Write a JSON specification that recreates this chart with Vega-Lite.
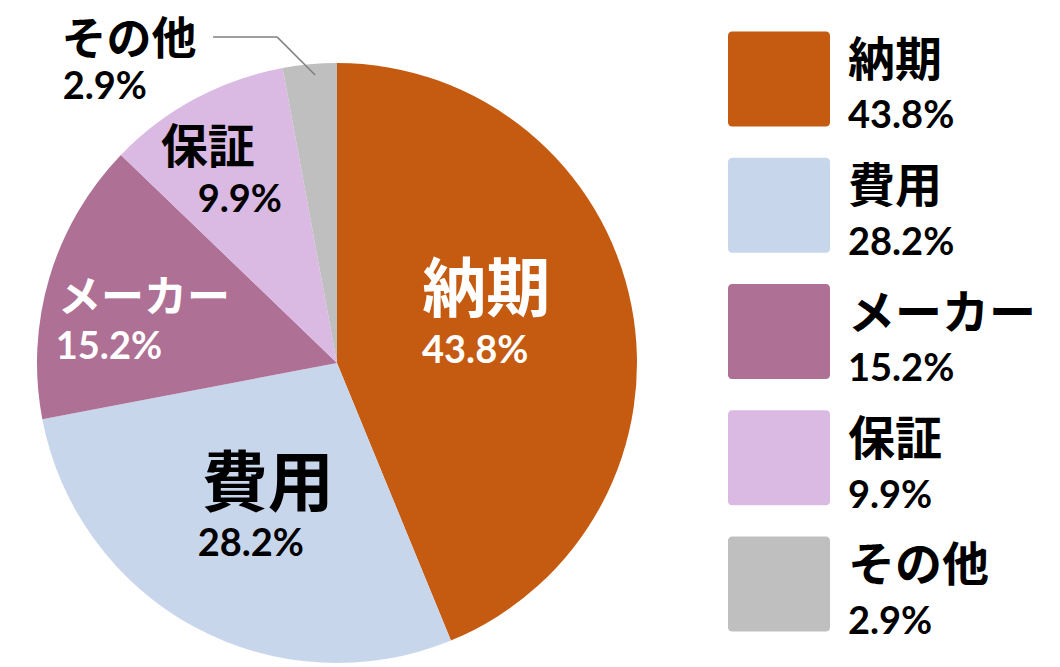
{
  "$schema": "https://vega.github.io/schema/vega-lite/v6.json",
  "autosize": {"type": "none"},
  "width": 600,
  "height": 600,
  "padding": {"left": 37, "top": 63, "right": 423, "bottom": 4},
  "background": "white",
  "config": {"view": {"stroke": null}},
  "data": {
    "values": [
      {"cat": "納期", "pct": "43.8%", "value": 43.8},
      {"cat": "費用", "pct": "28.2%", "value": 28.2},
      {"cat": "メーカー", "pct": "15.2%", "value": 15.2},
      {"cat": "保証", "pct": "9.9%", "value": 9.9},
      {"cat": "その他", "pct": "2.9%", "value": 2.9}
    ]
  },
  "layer": [
    {
      "mark": {"type": "arc", "outerRadius": 300, "strokeWidth": 0},
      "encoding": {
        "theta": {"field": "value", "type": "quantitative", "stack": true},
        "order": {"field": "value", "sort": "descending"},
        "fill": {
          "field": "cat", "type": "nominal",
          "scale": {"domain": ["納期", "費用", "メーカー", "保証", "その他"], "range": ["#C55A11", "#C8D6EC", "#AE7094", "#DABAE3", "#BFBFBF"]},
          "legend": {
            "orient": "none", "legendX": 691, "legendY": -38, "title": null, "padding": 0,
            "symbolType": "M-0.92,-0.871H0.92A0.08,0.08 0 0 1 1,-0.791V0.911A0.08,0.08 0 0 1 0.92,0.991H-0.92A0.08,0.08 0 0 1 -1,0.911V-0.791A0.08,0.08 0 0 1 -0.92,-0.871Z",
            "symbolSize": 10404, "symbolStrokeWidth": 0, "symbolOpacity": 1,
            "rowPadding": 24.25, "labelOffset": 18, "labelLimit": 400,
            "labelFont": "Noto Sans CJK JP", "labelFontWeight": "bold", "labelFontSize": 47,
            "labelColor": "#000000", "labelBaseline": "alphabetic"
          }
        }
      }
    },
    {
      "mark": {"type": "point", "radius": 10, "opacity": 0, "filled": true},
      "encoding": {
        "theta": {"field": "value", "type": "quantitative", "stack": true},
        "order": {"field": "value", "sort": "descending"},
        "detail": {"field": "cat", "type": "nominal"},
        "shape": {
          "field": "pct", "type": "nominal",
          "scale": {"domain": ["43.8%", "28.2%", "15.2%", "9.9%", "2.9%"], "range": ["square", "square", "square", "square", "square"]},
          "legend": {
            "orient": "none", "legendX": 691, "legendY": 3, "title": null, "padding": 0,
            "symbolType": "square", "symbolSize": 10404, "symbolStrokeWidth": 0, "symbolOpacity": 0,
            "rowPadding": 24.5, "labelOffset": 18, "labelLimit": 400,
            "labelFont": "Lato", "labelFontWeight": "bold", "labelFontSize": 38,
            "labelColor": "#000000", "labelBaseline": "middle", "labelOpacity": 1
          }
        }
      }
    },
    {
      "mark": {"type": "text", "radius": 150, "dx": 2, "dy": -42, "fontSize": 64, "fontWeight": "bold", "font": "Noto Sans CJK JP", "fill": "#FFFFFF", "align": "center", "baseline": "middle"},
      "encoding": {
        "theta": {"field": "value", "type": "quantitative", "stack": true},
        "order": {"field": "value", "sort": "descending"},
        "detail": {"field": "cat", "type": "nominal"},
        "text": {"condition": {"test": "datum.cat === '納期'", "field": "cat"}, "value": ""}
      }
    },
    {
      "mark": {"type": "text", "radius": 150, "dx": -9, "dy": 18, "fontSize": 38, "fontWeight": "bold", "font": "Lato", "fill": "#FFFFFF", "align": "center", "baseline": "middle"},
      "encoding": {
        "theta": {"field": "value", "type": "quantitative", "stack": true},
        "order": {"field": "value", "sort": "descending"},
        "detail": {"field": "cat", "type": "nominal"},
        "text": {"condition": {"test": "datum.cat === '納期'", "field": "pct"}, "value": ""}
      }
    },
    {
      "mark": {"type": "text", "radius": 160, "dx": 7, "dy": -18, "fontSize": 66, "fontWeight": "bold", "font": "Noto Sans CJK JP", "fill": "#000000", "align": "center", "baseline": "middle"},
      "encoding": {
        "theta": {"field": "value", "type": "quantitative", "stack": true},
        "order": {"field": "value", "sort": "descending"},
        "detail": {"field": "cat", "type": "nominal"},
        "text": {"condition": {"test": "datum.cat === '費用'", "field": "cat"}, "value": ""}
      }
    },
    {
      "mark": {"type": "text", "radius": 160, "dx": -10, "dy": 41, "fontSize": 38, "fontWeight": "bold", "font": "Lato", "fill": "#000000", "align": "center", "baseline": "middle"},
      "encoding": {
        "theta": {"field": "value", "type": "quantitative", "stack": true},
        "order": {"field": "value", "sort": "descending"},
        "detail": {"field": "cat", "type": "nominal"},
        "text": {"condition": {"test": "datum.cat === '費用'", "field": "pct"}, "value": ""}
      }
    },
    {
      "mark": {"type": "text", "radius": 215, "dx": 13, "dy": -3, "fontSize": 43, "fontWeight": "bold", "font": "Noto Sans CJK JP", "fill": "#FFFFFF", "align": "center", "baseline": "middle"},
      "encoding": {
        "theta": {"field": "value", "type": "quantitative", "stack": true},
        "order": {"field": "value", "sort": "descending"},
        "detail": {"field": "cat", "type": "nominal"},
        "text": {"condition": {"test": "datum.cat === 'メーカー'", "field": "cat"}, "value": ""}
      }
    },
    {
      "mark": {"type": "text", "radius": 215, "dx": -22, "dy": 46, "fontSize": 38, "fontWeight": "bold", "font": "Lato", "fill": "#FFFFFF", "align": "center", "baseline": "middle"},
      "encoding": {
        "theta": {"field": "value", "type": "quantitative", "stack": true},
        "order": {"field": "value", "sort": "descending"},
        "detail": {"field": "cat", "type": "nominal"},
        "text": {"condition": {"test": "datum.cat === 'メーカー'", "field": "pct"}, "value": ""}
      }
    },
    {
      "mark": {"type": "text", "radius": 220, "dx": -25, "dy": -20, "fontSize": 47, "fontWeight": "bold", "font": "Noto Sans CJK JP", "fill": "#000000", "align": "center", "baseline": "middle"},
      "encoding": {
        "theta": {"field": "value", "type": "quantitative", "stack": true},
        "order": {"field": "value", "sort": "descending"},
        "detail": {"field": "cat", "type": "nominal"},
        "text": {"condition": {"test": "datum.cat === '保証'", "field": "cat"}, "value": ""}
      }
    },
    {
      "mark": {"type": "text", "radius": 220, "dx": 7, "dy": 32, "fontSize": 38, "fontWeight": "bold", "font": "Lato", "fill": "#000000", "align": "center", "baseline": "middle"},
      "encoding": {
        "theta": {"field": "value", "type": "quantitative", "stack": true},
        "order": {"field": "value", "sort": "descending"},
        "detail": {"field": "cat", "type": "nominal"},
        "text": {"condition": {"test": "datum.cat === '保証'", "field": "pct"}, "value": ""}
      }
    },
    {
      "mark": {"type": "text", "radius": 320, "dx": -179, "dy": -3, "fontSize": 45, "fontWeight": "bold", "font": "Noto Sans CJK JP", "fill": "#000000", "align": "center", "baseline": "middle"},
      "encoding": {
        "theta": {"field": "value", "type": "quantitative", "stack": true},
        "order": {"field": "value", "sort": "descending"},
        "detail": {"field": "cat", "type": "nominal"},
        "text": {"condition": {"test": "datum.cat === 'その他'", "field": "cat"}, "value": ""}
      }
    },
    {
      "mark": {"type": "text", "radius": 320, "dx": -203, "dy": 44, "fontSize": 38, "fontWeight": "bold", "font": "Lato", "fill": "#000000", "align": "center", "baseline": "middle"},
      "encoding": {
        "theta": {"field": "value", "type": "quantitative", "stack": true},
        "order": {"field": "value", "sort": "descending"},
        "detail": {"field": "cat", "type": "nominal"},
        "text": {"condition": {"test": "datum.cat === 'その他'", "field": "pct"}, "value": ""}
      }
    },
    {
      "data": {"values": [{"seg": "leader"}]},
      "mark": {"type": "rule", "color": "#7F7F7F", "strokeWidth": 1.5},
      "encoding": {
        "x": {"datum": -0.413, "type": "quantitative", "scale": {"domain": [-1, 1], "nice": false, "zero": false}, "axis": null},
        "x2": {"datum": -0.2},
        "y": {"datum": 1.087, "type": "quantitative", "scale": {"domain": [-1, 1], "nice": false, "zero": false}, "axis": null},
        "y2": {"datum": 1.087}
      }
    },
    {
      "data": {"values": [{"seg": "leader"}]},
      "mark": {"type": "rule", "color": "#7F7F7F", "strokeWidth": 1.5},
      "encoding": {
        "x": {"datum": -0.2, "type": "quantitative", "axis": null},
        "x2": {"datum": -0.073},
        "y": {"datum": 1.087, "type": "quantitative", "axis": null},
        "y2": {"datum": 0.96}
      }
    }
  ]
}
